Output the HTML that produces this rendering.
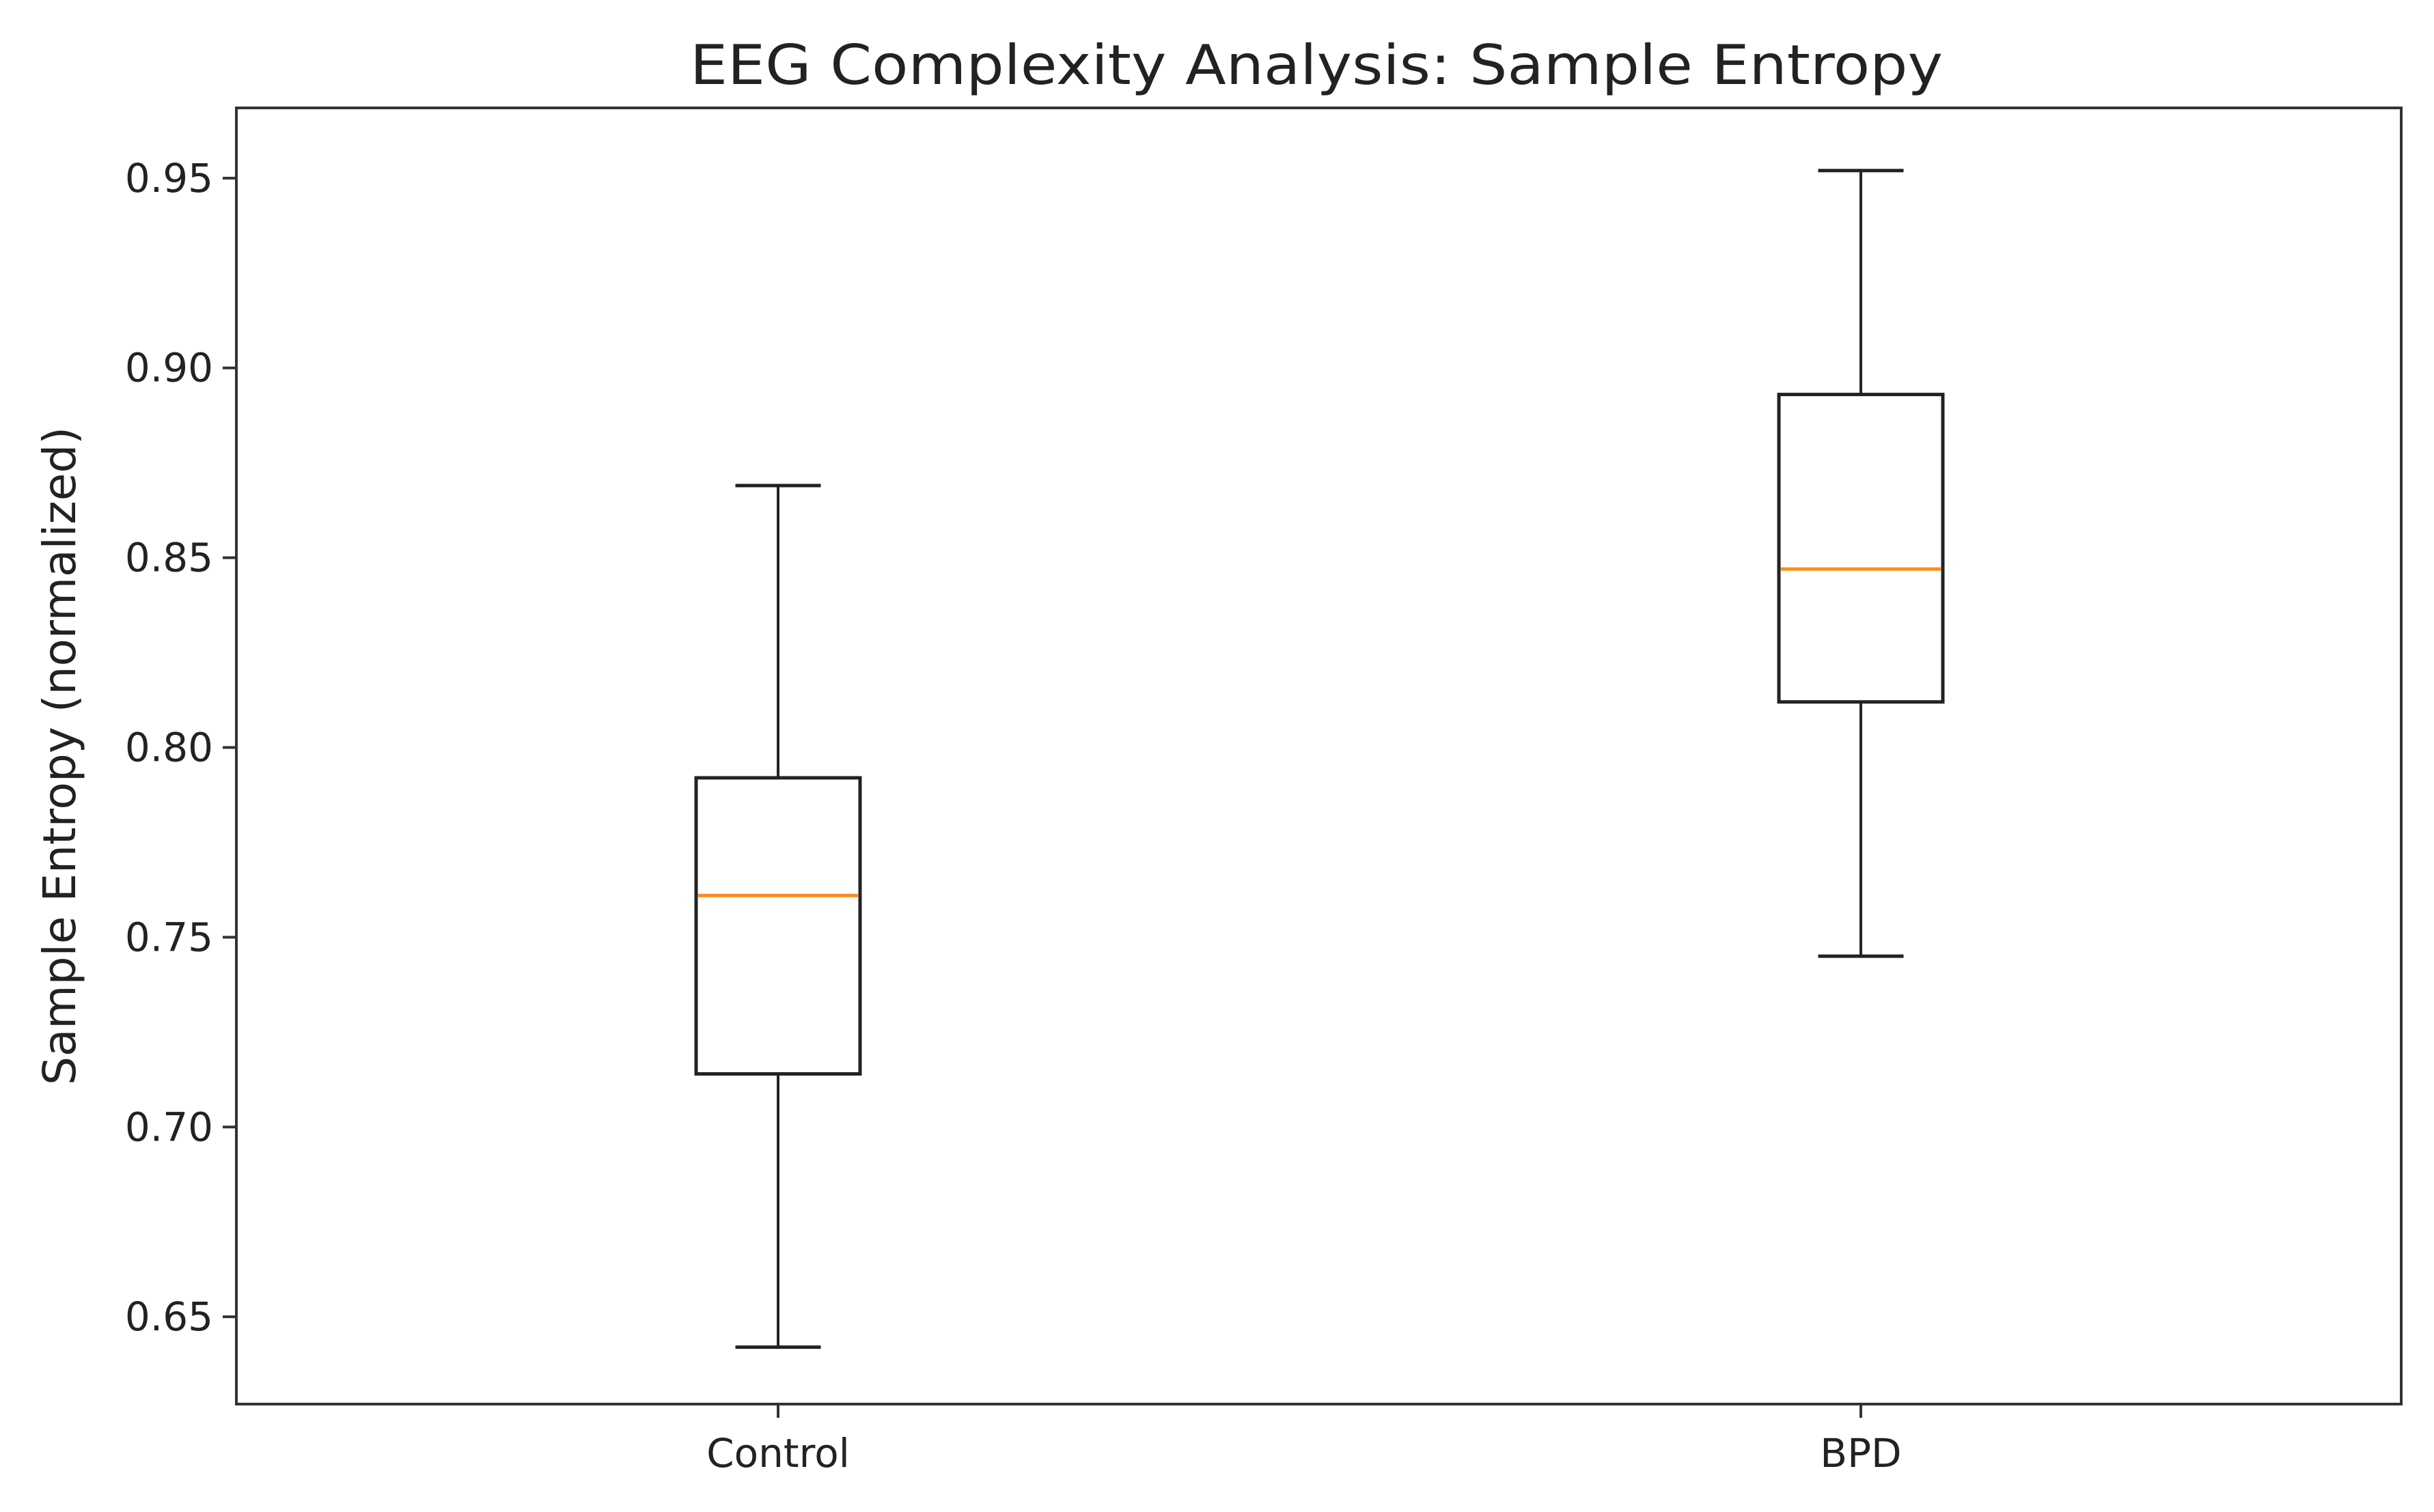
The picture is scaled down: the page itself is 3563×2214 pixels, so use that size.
<!DOCTYPE html>
<html><head><meta charset="utf-8"><style>
html,body{margin:0;padding:0;background:#fff;}
svg{display:block;font-family:"DejaVu Sans","Liberation Sans",sans-serif;}
</style></head><body>
<svg id="chart" width="3563" height="2214" viewBox="0 0 3563 2214" xmlns="http://www.w3.org/2000/svg">
<rect width="3563" height="2214" fill="#fff"/>
<text x="1927" y="123" font-size="80" text-anchor="middle" textLength="1834" lengthAdjust="spacingAndGlyphs" fill="#222">EEG Complexity Analysis: Sample Entropy</text>
<text transform="translate(110,1107) rotate(-90)" font-size="66" text-anchor="middle" fill="#222">Sample Entropy (normalized)</text>
<g id="plot"></g>
<rect x="346" y="158" width="3169" height="1898" fill="none" stroke="#333" stroke-width="4"/>
</svg>
<script>
const categories = ["Control", "BPD"];
const whiskerLow = [0.642, 0.745];
const q1 = [0.714, 0.812];
const median = [0.761, 0.847];
const q3 = [0.792, 0.893];
const whiskerHigh = [0.869, 0.952];
const yTicks = [0.65, 0.70, 0.75, 0.80, 0.85, 0.90, 0.95];
const yTickLabels = ["0.65", "0.70", "0.75", "0.80", "0.85", "0.90", "0.95"];

const L = 346, R = 3515, T = 158, B = 2056;
const yMin = 0.627, yMax = 0.9685;
function y(v){ return B - (v - yMin) / (yMax - yMin) * (B - T); }
const xPos = [1139, 2724];
function x(i){ return xPos[0] + i * (xPos[1] - xPos[0]) / Math.max(1, categories.length - 1); }

const NS = "http://www.w3.org/2000/svg";
const g = document.getElementById('plot');
function mk(tag, attrs){ const e = document.createElementNS(NS, tag); for (const k in attrs) e.setAttribute(k, attrs[k]); g.appendChild(e); return e; }

yTicks.forEach((v, i) => {
  const t = mk('line', {x1: L - 20, x2: L, y1: y(v), y2: y(v), stroke: '#333', 'stroke-width': 4});
  
  
  const lb = mk('text', {x: L - 34, y: y(v) + 20, 'font-size': 58, 'text-anchor': 'end', fill: '#222'});
  lb.textContent = yTickLabels[i];
  
  
});

const boxW = 240, capW = 125;
categories.forEach((c, i) => {
  const cx = x(i);
  const t = mk('line', {x1: cx, x2: cx, y1: B, y2: B + 20, stroke: '#333', 'stroke-width': 4});
  
  
  const lb = mk('text', {x: cx, y: B + 92, 'font-size': 58, 'text-anchor': 'middle', fill: '#222'});
  lb.textContent = c;
  
  

  const w1 = mk('line', {x1: cx, x2: cx, y1: y(q1[i]), y2: y(whiskerLow[i]), stroke: '#222', 'stroke-width': 4});
  
  
  const w2 = mk('line', {x1: cx, x2: cx, y1: y(q3[i]), y2: y(whiskerHigh[i]), stroke: '#222', 'stroke-width': 4});
  
  
  const c1 = mk('line', {x1: cx - capW/2, x2: cx + capW/2, y1: y(whiskerLow[i]), y2: y(whiskerLow[i]), stroke: '#222', 'stroke-width': 5});
  
  
  const c2 = mk('line', {x1: cx - capW/2, x2: cx + capW/2, y1: y(whiskerHigh[i]), y2: y(whiskerHigh[i]), stroke: '#222', 'stroke-width': 5});
  
  
  const bx = mk('rect', {x: cx - boxW/2, y: y(q3[i]), width: boxW, height: y(q1[i]) - y(q3[i]), fill: 'none', stroke: '#222', 'stroke-width': 5});
  
  
  const md = mk('line', {x1: cx - boxW/2 + 3, x2: cx + boxW/2 - 3, y1: y(median[i]), y2: y(median[i]), stroke: '#ff8c1a', 'stroke-width': 5});
  
  
});
</script>
</body></html>
